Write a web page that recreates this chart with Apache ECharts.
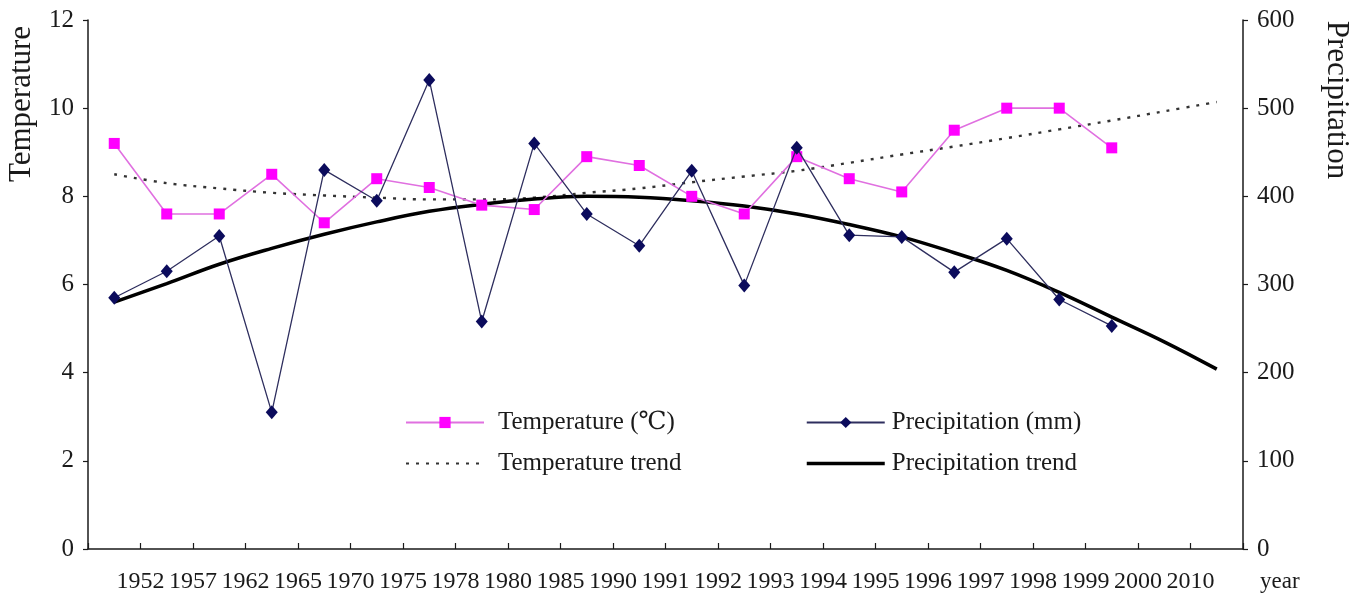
<!DOCTYPE html>
<html><head><meta charset="utf-8">
<script src="https://cdn.jsdelivr.net/npm/echarts@6/dist/echarts.min.js"></script>
<style>html,body{margin:0;padding:0;background:#fff}#c{width:1362px;height:594px}</style>
</head><body><div id="c"></div>
<script>
const yearLabels = ['1952','1957','1962','1965','1970','1975','1978','1980','1985','1990','1991','1992','1993','1994','1995','1996','1997','1998','1999','2000','2010'];
const slots = ['s0','s1','s2','s3','s4','s5','s6','s7','s8','s9','s10','s11','s12','s13','s14','s15','s16','s17','s18','s19','s20','s21'];
const temperature = [9.2,7.6,7.6,8.5,7.4,8.4,8.2,7.8,7.7,8.9,8.7,8.0,7.6,8.9,8.4,8.1,9.5,10.0,10.0,9.1];
const precipitation = [285,315,355,155,430,395,532,258,460,380,344,429,299,455,356,354,314,352,283,253];
const temperatureTrend = [8.5,8.3,8.18,8.08,8.02,7.97,7.93,7.93,7.97,8.08,8.18,8.32,8.45,8.58,8.76,8.95,9.13,9.32,9.52,9.72,9.93,10.14];
const precipitationTrend = [280,301,323,341,357,371,383,391,397,400,399,395,389,380,368,354,336,316,291,263,235,204];

const FONT = '"Liberation Serif", "DejaVu Serif", serif';
const INK = '#1a1a1a';
const chart = echarts.init(document.getElementById('c'), null, {renderer:'canvas'});
const axisLineStyle = {color: INK, width: 1.5};
chart.setOption({
  backgroundColor: '#fff',
  animation: false,
  textStyle: {fontFamily: FONT},
  grid: {left: 88, right: 119, top: 20, bottom: 44},
  xAxis: [
    {type: 'category', data: slots, boundaryGap: true,
     axisLine: {lineStyle: axisLineStyle},
     axisTick: {show: true, inside: true, length: 6, lineStyle: {color: INK, width: 1.2}},
     axisLabel: {show: false}, splitLine: {show: false}},
    {type: 'value', min: 0, max: 22, interval: 1, position: 'bottom',
     axisLine: {show: false}, axisTick: {show: false}, splitLine: {show: false},
     axisLabel: {formatter: v => yearLabels[v - 1] || '', fontSize: 24, color: INK, margin: 21, fontFamily: FONT}}
  ],
  yAxis: [
    {type: 'value', min: 0, max: 12, interval: 2,
     axisLine: {show: true, lineStyle: axisLineStyle},
     axisTick: {show: true, length: 5, lineStyle: {color: INK, width: 1.2}},
     axisLabel: {fontSize: 25, color: INK, margin: 14, fontFamily: FONT},
     splitLine: {show: false}},
    {type: 'value', min: 0, max: 600, interval: 100, position: 'right',
     axisLine: {show: true, lineStyle: axisLineStyle},
     axisTick: {show: true, length: 5, lineStyle: {color: INK, width: 1.2}},
     axisLabel: {fontSize: 25, color: INK, margin: 14, fontFamily: FONT},
     splitLine: {show: false}}
  ],
  legend: [
    {orient: 'vertical', left: 400, top: 405, itemWidth: 78, itemHeight: 14, itemGap: 16, selectedMode: false,
     data: [{name: 'Temperature (℃)'}, {name: 'Temperature trend', itemStyle: {opacity: 0}}],
     textStyle: {fontSize: 25, color: INK, fontFamily: FONT, padding: [0, 0, 0, 9]}},
    {orient: 'vertical', left: 800, top: 405, itemWidth: 78, itemHeight: 14, itemGap: 16, selectedMode: false,
     data: [{name: 'Precipitation (mm)'}, {name: 'Precipitation trend', itemStyle: {opacity: 0}, lineStyle: {width: 3.5, color: '#000'}}],
     textStyle: {fontSize: 25, color: INK, fontFamily: FONT, padding: [0, 0, 0, 2]}}
  ],
  graphic: [
    {type: 'text', x: 22, y: 104, rotation: Math.PI / 2,
     style: {text: 'Temperature', font: '31px ' + FONT, fill: INK, align: 'center', verticalAlign: 'middle'}},
    {type: 'text', x: 1336, y: 100, rotation: -Math.PI / 2,
     style: {text: 'Precipitation', font: '31px ' + FONT, fill: INK, align: 'center', verticalAlign: 'middle'}},
    {type: 'text', x: 1260, y: 582,
     style: {text: 'year', font: '23px ' + FONT, fill: INK, align: 'left', verticalAlign: 'middle'}}
  ],
  series: [
    {name: 'Temperature trend', type: 'line', data: temperatureTrend, smooth: 0.4, symbol: 'none',
     lineStyle: {type: [3, 7], width: 2.4, color: '#333'}, z: 1},
    {name: 'Precipitation trend', type: 'line', yAxisIndex: 1, data: precipitationTrend, smooth: 0.4, symbol: 'none',
     lineStyle: {width: 3.5, color: '#000'}, z: 2},
    {name: 'Temperature (℃)', type: 'line', data: temperature, symbol: 'rect', symbolSize: 11,
     itemStyle: {color: '#ff00ff'}, lineStyle: {color: '#e070e0', width: 1.6}, z: 3},
    {name: 'Precipitation (mm)', type: 'line', yAxisIndex: 1, data: precipitation, symbol: 'diamond', symbolSize: [12, 14],
     itemStyle: {color: '#0b0b5c'}, lineStyle: {color: '#2e2e5e', width: 1.3}, z: 4}
  ]
});
</script></body></html>
